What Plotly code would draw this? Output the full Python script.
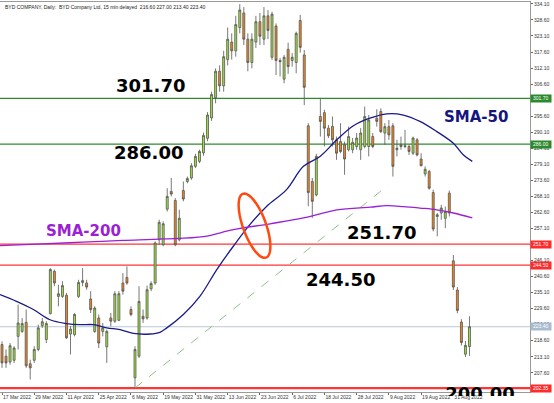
import plotly.graph_objects as go
import pandas as pd
import numpy as np

# ---------------- data ----------------
holidays = ["2022-04-05", "2022-04-15", "2022-04-18", "2022-05-02",
            "2022-05-09", "2022-06-03", "2022-07-01"]
dates = [d for d in pd.bdate_range("2022-03-17", "2022-09-06")
         if d.strftime("%Y-%m-%d") not in holidays]

opens = [217.3, 213.3, 211.3, 211.9, 220.1, 221.8, 224.9, 210.7, 211.9, 215.6,
         223.8, 219.0, 227.9, 242.4, 233.8, 233.8, 234.2, 220.9, 220.7, 233.8,
         238.6, 238.4, 232.9, 221.8, 226.4, 221.8, 216.5, 226.4, 225.3, 225.6,
         238.4, 240.3, 229.3, 205.9, 213.3, 227.0, 226.4, 236.4, 238.4, 253.2,
         251.5, 263.7, 269.8, 266.7, 253.2, 270.1, 273.2, 274.4, 278.4, 280.1,
         283.0, 288.0, 295.0, 302.0, 311.0, 306.0, 315.0, 321.0, 318.0, 326.0,
         331.0, 322.0, 314.0, 321.0, 328.0, 322.0, 330.0,
         315.8, 326.5, 314.7, 308.3, 318.5, 314.7, 314.0, 328.4, 316.6, 292.3,
         273.2, 268.6, 295.5, 296.8, 291.5, 292.1, 287.5, 286.9, 285.8, 284.1,
         284.1, 285.2, 284.1, 285.2, 285.2, 288.6, 294.9, 297.2, 289.8, 292.0,
         292.3, 284.1, 285.8, 285.5, 285.2, 282.9, 287.5, 280.9, 275.8, 276.6,
         269.4, 261.2, 262.4, 260.6, 269.2,
         246.0, 236.0, 225.0, 214.0, 216.6]
highs = [218.4, 215.6, 217.8, 216.7, 231.0, 226.4, 229.3, 212.1, 216.7, 224.1,
         226.4, 225.3, 243.5, 243.0, 237.8, 239.0, 235.0, 223.6, 228.1, 239.5,
         243.5, 239.5, 235.6, 230.4, 227.6, 224.7, 222.4, 228.1, 235.6, 235.6,
         241.8, 244.1, 230.4, 216.7, 237.3, 229.3, 237.5, 239.0, 252.7, 260.1,
         259.5, 270.9, 274.4, 267.5, 263.5, 273.2, 274.9, 279.5, 282.7, 284.1,
         290.0, 297.0, 304.0, 312.0, 313.0, 318.0, 326.0, 324.0, 330.0, 334.0,
         333.0, 324.0, 324.0, 330.0, 331.0, 333.0, 332.0,
         331.4, 327.4, 315.5, 316.6, 320.8, 317.2, 324.6, 330.3, 318.3, 293.2,
         274.4, 282.7, 301.6, 297.8, 292.6, 295.5, 288.6, 293.2, 286.9, 292.0,
         288.1, 289.8, 291.5, 298.9, 296.0, 289.8, 298.0, 298.3, 293.2, 294.3,
         293.2, 287.5, 288.6, 290.9, 285.8, 288.6, 288.1, 282.9, 278.4, 277.2,
         270.4, 262.4, 265.2, 264.6, 270.1,
         248.0, 237.0, 226.0, 218.5, 227.0]
lows = [209.3, 209.3, 210.4, 211.0, 215.6, 221.3, 209.3, 205.3, 211.0, 215.0,
        223.0, 217.8, 227.6, 237.3, 230.4, 233.3, 219.2, 213.9, 220.1, 233.3,
        237.3, 236.1, 228.1, 221.3, 216.1, 220.1, 211.0, 223.6, 224.7, 225.3,
        234.4, 237.8, 227.0, 202.4, 212.7, 224.7, 225.8, 235.6, 237.8, 251.5,
        251.0, 262.9, 268.1, 251.0, 252.7, 266.4, 272.6, 273.8, 277.8, 279.5,
        282.0, 287.0, 294.0, 300.0, 304.0, 304.0, 313.0, 315.0, 316.0, 324.0,
        320.0, 311.0, 312.0, 319.0, 320.0, 320.0, 322.0,
        314.9, 309.7, 309.2, 306.9, 310.1, 312.6, 310.3, 317.4, 299.4, 264.7,
        260.7, 268.1, 288.6, 285.2, 288.1, 285.2, 280.6, 282.9, 275.5, 283.5,
        282.9, 284.1, 280.6, 284.6, 281.8, 284.6, 292.0, 289.8, 285.8, 287.5,
        274.9, 281.8, 284.1, 284.6, 282.3, 282.3, 281.8, 278.4, 274.9, 270.4,
        256.1, 254.4, 260.1, 257.2, 261.2,
        236.0, 228.0, 217.0, 213.0, 213.4]
closes = [211.0, 211.0, 216.9, 216.1, 224.7, 224.5, 210.0, 209.3, 215.6, 223.0,
          225.1, 224.5, 243.0, 238.4, 234.7, 237.5, 219.6, 222.6, 227.6, 238.6,
          239.2, 237.0, 229.3, 229.8, 217.8, 223.0, 221.8, 225.3, 234.7, 234.7,
          235.6, 238.4, 227.6, 215.6, 232.1, 226.1, 236.1, 238.2, 252.1, 259.2,
          258.7, 268.1, 268.9, 251.5, 260.6, 267.2, 274.2, 278.6, 281.8, 283.5,
          289.0, 296.0, 303.0, 311.0, 306.0, 316.0, 322.0, 318.0, 327.0, 332.0,
          322.0, 314.0, 322.0, 328.0, 323.0, 330.0, 325.0,
          330.6, 314.7, 314.3, 315.8, 312.6, 315.8, 324.0, 319.2, 305.5, 269.4,
          266.4, 281.8, 293.8, 291.5, 288.9, 287.5, 282.9, 283.5, 280.9, 288.6,
          286.6, 288.1, 289.8, 295.5, 294.3, 285.2, 293.8, 290.3, 292.0, 289.2,
          278.4, 284.6, 285.2, 285.2, 283.5, 288.1, 282.3, 278.6, 277.4, 270.9,
          256.9, 261.8, 264.1, 262.9, 262.4,
          237.0, 229.0, 218.0, 217.0, 223.4]

sma50_idx = [-0.5, 3.6, 7.8, 11.9, 16.0, 19.4, 22.7, 26.0, 29.3, 32.6, 36.7, 39.2,
             40.9, 45.0, 49.1, 53.3, 57.4, 61.5, 65.7, 70.6, 74.8, 78.9, 83.1,
             87.2, 91.3, 95.5, 99.6, 103.7, 107.9, 112.0, 114.5, 116.7]
sma50_val = [234.4, 232.1, 229.3, 225.8, 224.5, 224.1, 224.1, 223.0, 222.4, 221.1,
             220.9, 221.5, 223.0, 227.6, 233.8, 243.0, 251.0, 258.4, 264.7, 270.4,
             278.4, 281.8, 287.5, 292.3, 294.9, 296.4, 296.0, 293.8, 290.3, 286.3,
             282.3, 280.1]
sma200_idx = [-0.5, 10.0, 20.0, 30.0, 40.0, 50.0, 57.4, 66.5, 74.8, 83.1, 91.3,
              95.5, 99.6, 103.7, 107.9, 112.0, 116.7]
sma200_val = [251.2, 251.8, 252.4, 253.0, 253.5, 254.3, 256.7, 258.7, 260.7, 263.5,
              264.4, 264.9, 264.6, 264.1, 263.5, 262.4, 260.7]

levels_green = [301.70, 286.00]
levels_red = [251.70, 244.50, 202.35]
last_close = 223.40
trend_start = (33, 202.4)
trend_end = (95.8, 271.9)

tick_idx = list(range(0, 113, 8))
tick_text = ["17 Mar 2022", "29 Mar 2022", "11 Apr 2022", "25 Apr 2022",
             "6 May 2022", "19 May 2022", "31 May 2022", "13 Jun 2022",
             "23 Jun 2022", "6 Jul 2022", "18 Jul 2022", "28 Jul 2022",
             "9 Aug 2022", "19 Aug 2022", "31 Aug 2022"]
y_ticks = [334.10 - 5.5 * k for k in range(25)]

# ---------------- layout helpers ----------------
W, H = 554, 403
PLOT_L, PLOT_R, PLOT_T, PLOT_B = 0, 530, 2, 392   # main plot area (px)
CLIP_B = 396.5                                     # lower clip edge for overlay text
XR = [(PLOT_L - 2) / 4.03, (PLOT_R - 2) / 4.03]
YR = [201.19, 334.75]


def X(px):
    return XR[0] + (px - PLOT_L) / (PLOT_R - PLOT_L) * (XR[1] - XR[0])


def Y(py):
    return YR[1] - (py - PLOT_T) / (PLOT_B - PLOT_T) * (YR[1] - YR[0])


MT, MB, MR = PLOT_T, H - CLIP_B, W - PLOT_R
main_dom0 = (CLIP_B - PLOT_B) / (CLIP_B - PLOT_T)

xs = list(range(len(dates)))
hover = [d.strftime("%d %b %Y") for d in dates]

fig = go.Figure()
fig.add_trace(go.Candlestick(
    x=xs, open=opens, high=highs, low=lows, close=closes, text=hover,
    increasing=dict(fillcolor="#9ddf3a", line=dict(color="#555555", width=0.8)),
    decreasing=dict(fillcolor="#f0861e", line=dict(color="#555555", width=0.8)),
    whiskerwidth=0, showlegend=False))

fig.add_trace(go.Scatter(x=sma50_idx, y=sma50_val, mode="lines",
                         line=dict(color="#1a1a8a", width=1.3, shape="spline"),
                         showlegend=False, hoverinfo="skip"))
fig.add_trace(go.Scatter(x=sma200_idx, y=sma200_val, mode="lines",
                         line=dict(color="#9b1fd6", width=1.3, shape="spline"),
                         showlegend=False, hoverinfo="skip"))

# big label at the bottom, partly clipped (overlay subplot in pixel units)
fig.add_trace(go.Scatter(x=[X(480)], y=[395.5], mode="text", xaxis="x2", yaxis="y2",
                         text=["<b>200.00</b>"], textposition="middle center",
                         textfont=dict(family="DejaVu Sans", size=18, color="#000000"),
                         cliponaxis=True, showlegend=False, hoverinfo="skip"))

shapes = []
for lv in levels_green:
    shapes.append(dict(type="line", xref="paper", x0=0, x1=1, yref="y", y0=lv, y1=lv,
                       line=dict(color="#2e8b2e", width=1.4), layer="below"))
for lv in levels_red:
    shapes.append(dict(type="line", xref="paper", x0=0, x1=1, yref="y", y0=lv, y1=lv,
                       line=dict(color="#ff3535", width=1.2 if lv > 210 else 2.2),
                       layer="below"))
shapes.append(dict(type="line", xref="paper", x0=0, x1=1, yref="y", y0=last_close,
                   y1=last_close, line=dict(color="#bcc8d4", width=1), layer="below"))
shapes.append(dict(type="line", xref="x", yref="y", x0=trend_start[0], y0=trend_start[1],
                   x1=trend_end[0], y1=trend_end[1],
                   line=dict(color="#8fbf8f", width=1, dash="dash"), layer="below"))

# tilted ellipse (pixel geometry -> data)
cx, cy, a, b, ang = 254.5, 226.0, 34.0, 11.5, np.deg2rad(70)
t = np.linspace(0, 2 * np.pi, 60)
ex = cx + a * np.cos(t) * np.cos(ang) - b * np.sin(t) * np.sin(ang)
ey = cy + a * np.cos(t) * np.sin(ang) + b * np.sin(t) * np.cos(ang)
path = "M " + " L ".join(f"{X(px):.4f},{Y(py):.4f}" for px, py in zip(ex, ey)) + " Z"
shapes.append(dict(type="path", xref="x", yref="y", path=path,
                   line=dict(color="#ff4a12", width=2.5)))

ann = []
ann.append(dict(xref="paper", yref="paper", x=0.005, y=1, xanchor="left", yanchor="top",
                text="BYD COMPANY, Daily:  BYD Company Ltd, 15 min delayed  216.60 227.00 213.40 223.40",
                showarrow=False, font=dict(family="Liberation Sans", size=5, color="#222222")))


def level_label(v, bg, fg="#ffffff"):
    ann.append(dict(xref="paper", yref="y", x=1, y=v, xanchor="left", yanchor="middle",
                    xshift=0, text=f"{v:.2f}", showarrow=False, bgcolor=bg, borderpad=0.3,
                    width=19, align="center",
                    font=dict(family="Liberation Sans", size=5, color=fg)))


level_label(301.70, "#2b8a2b")
level_label(286.00, "#2b8a2b")
level_label(251.70, "#ff2a2a")
level_label(244.50, "#ff2a2a")
level_label(223.40, "#a9bbce", "#ffffff")
level_label(202.35, "#ff2a2a")


def big(text, px, py, color="#000000", size=18):
    ann.append(dict(xref="x", yref="y", x=X(px), y=Y(py), text=f"<b>{text}</b>",
                    showarrow=False, xanchor="center", yanchor="middle",
                    font=dict(family="DejaVu Sans", size=size, color=color)))


big("301.70", 150, 86)
big("286.00", 148, 153)
big("SMA-50", 476, 117, "#15157e", 15)
big("SMA-200", 83, 231, "#9b1fd6", 15)
big("251.70", 381, 233)
big("244.50", 340, 280)

fig.update_layout(
    width=W, height=H, margin=dict(l=PLOT_L, r=MR, t=MT, b=MB, autoexpand=False),
    paper_bgcolor="#ffffff", plot_bgcolor="rgba(0,0,0,0)",
    shapes=shapes, annotations=ann, showlegend=False,
    xaxis=dict(range=XR, tickvals=tick_idx, ticktext=tick_text, ticks="outside",
               ticklen=2, tickcolor="#666666", ticklabelposition="outside right",
               tickangle=0, automargin=False, anchor="y",
               tickfont=dict(family="Liberation Sans", size=5, color="#333333"),
               showgrid=False, zeroline=False, showline=True, linecolor="#9a9a9a",
               mirror=True, rangeslider=dict(visible=False), fixedrange=True),
    yaxis=dict(range=YR, side="right", tickvals=y_ticks, automargin=False,
               domain=[main_dom0, 1], anchor="x",
               ticktext=[f"{v:.2f}" for v in y_ticks], ticks="outside", ticklen=2,
               tickcolor="#666666",
               tickfont=dict(family="Liberation Sans", size=5, color="#333333"),
               showgrid=False, zeroline=False, showline=True, linecolor="#9a9a9a",
               mirror=True, fixedrange=True),
    xaxis2=dict(range=XR, domain=[0, 1], anchor="y2", visible=False, fixedrange=True,
                showgrid=False, zeroline=False),
    yaxis2=dict(range=[CLIP_B, PLOT_T], domain=[0, 1], anchor="x2", visible=False,
                fixedrange=True, showgrid=False, zeroline=False),
)

fig.write_html("out.html", config={"displayModeBar": False},
               post_script="document.body.style.margin='0px';"
                           "document.body.style.overflow='hidden';")
